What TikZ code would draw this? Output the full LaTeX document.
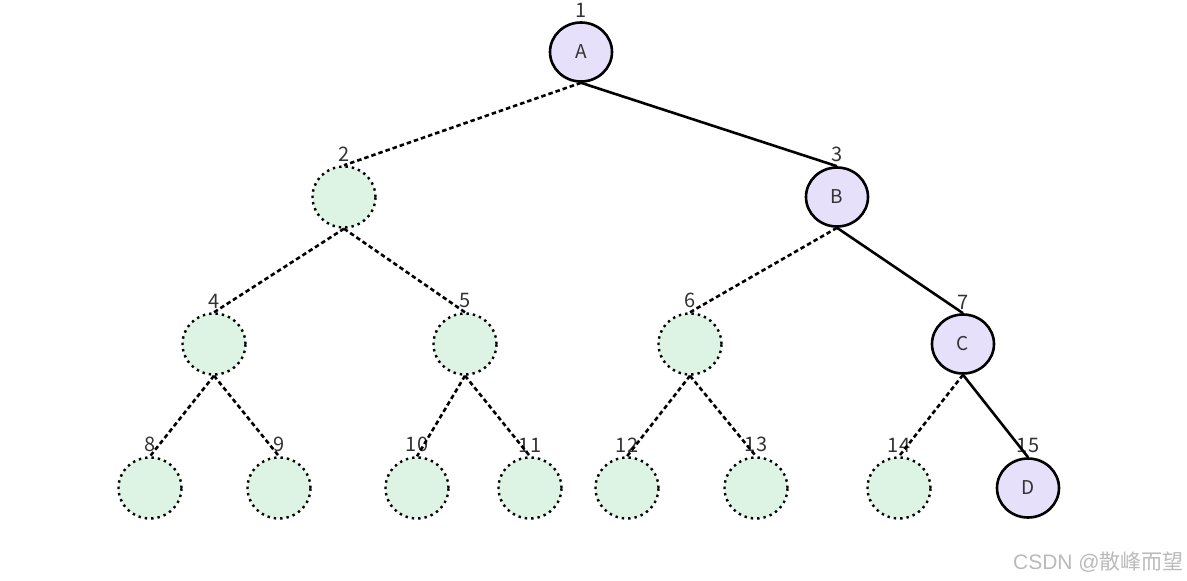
\documentclass[tikz,border=0pt]{standalone}
\usepackage{fontspec}
\setmainfont{Noto Sans}
\newfontfamily\cjk{Noto Sans CJK SC}
\newfontfamily\wmlatin{Liberation Sans}
\usetikzlibrary{shapes.geometric}
\definecolor{lav}{HTML}{E6E0FA}
\definecolor{mint}{HTML}{DDF3E3}
\definecolor{txt}{HTML}{333333}
\tikzset{
  full/.style={ellipse, draw=black, line width=2.6pt, fill=lav, minimum width=62pt, minimum height=59pt, inner sep=0pt, text=txt, font=\cjk\fontsize{19}{21}\selectfont},
  empty/.style={ellipse, draw=black, line width=2.4pt, dash pattern=on 2.4pt off 4pt, fill=mint, minimum width=63pt, minimum height=61pt, inner sep=0pt},
  num/.style={text=txt, font=\cjk\fontsize{20}{22}\selectfont, inner sep=0pt},
  solidedge/.style={line width=2.6pt, draw=black},
  dashedge/.style={line width=2.6pt, draw=black, dash pattern=on 4.5pt off 3pt},
}
\begin{document}
\begin{tikzpicture}[x=1pt,y=-1pt]
\useasboundingbox (0,0) rectangle (1187,581);
% nodes
\node[full] (n1) at (581,52) {A};
\node[empty] (n2) at (344,197) {};
\node[full] (n3) at (837,197) {B};
\node[empty] (n4) at (214,344) {};
\node[empty] (n5) at (465,344) {};
\node[empty] (n6) at (690,344) {};
\node[full] (n7) at (963,344) {C};
\node[empty] (n8) at (150,488) {};
\node[empty] (n9) at (279,488) {};
\node[empty] (n10) at (417,488) {};
\node[empty] (n11) at (530,488) {};
\node[empty] (n12) at (627,488) {};
\node[empty] (n13) at (756,488) {};
\node[empty] (n14) at (899,488) {};
\node[full] (n15) at (1028,488) {D};
% labels
\foreach \i in {1,...,15} {
  \node[num, anchor=south] (l\i) at ([yshift=4pt]n\i.north) {\i};
}
% edges
\draw[dashedge] (n1.south) -- (n2.north);
\draw[solidedge] (n1.south) -- (n3.north);
\draw[dashedge] (n2.south) -- (n4.north);
\draw[dashedge] (n2.south) -- (n5.north);
\draw[dashedge] (n3.south) -- (n6.north);
\draw[solidedge] (n3.south) -- (n7.north);
\draw[dashedge] (n4.south) -- (n8.north);
\draw[dashedge] (n4.south) -- (n9.north);
\draw[dashedge] (n5.south) -- (n10.north);
\draw[dashedge] (n5.south) -- (n11.north);
\draw[dashedge] (n6.south) -- (n12.north);
\draw[dashedge] (n6.south) -- (n13.north);
\draw[dashedge] (n7.south) -- (n14.north);
\draw[solidedge] (n7.south) -- (n15.north);
% watermark
\node[anchor=east, text=black!27, font=\fontsize{21}{23}\selectfont, inner sep=0pt] (wm) at (1184,562) {{\wmlatin CSDN @}{\cjk 散峰而望}};
\end{tikzpicture}
\end{document}
